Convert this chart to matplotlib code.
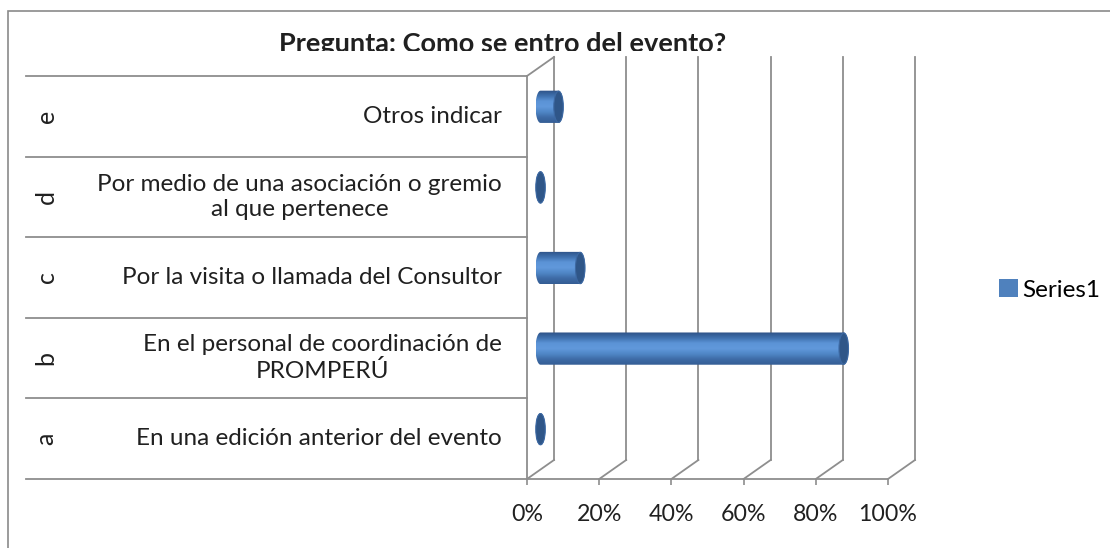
import numpy as np
import matplotlib
matplotlib.use("Agg")
import matplotlib.pyplot as plt
from matplotlib.patches import Ellipse, Polygon, Rectangle, Patch
from matplotlib.colors import LinearSegmentedColormap
from matplotlib.transforms import Bbox, TransformedBbox

# data
letters = ["a", "b", "c", "d", "e"]
labels = [
    "En una edición anterior del evento",
    "En el personal de coordinación de\nPROMPERÚ",
    "Por la visita o llamada del Consultor",
    "Por medio de una asociación o gremio\nal que pertenece",
    "Otros indicar",
]
values = [0, 84, 11, 0, 5]
xticks = [0, 20, 40, 60, 80, 100]
xtick_labels = ["0%", "20%", "40%", "60%", "80%", "100%"]
title = "Pregunta: Como se entro del evento?"
series_name = "Series1"

plt.rcParams["font.family"] = ["Lato", "DejaVu Sans"]

W, H = 1110, 548
GRID = "#8e8e8e"
TXT = "#202020"
fig = plt.figure(figsize=(W / 100, H / 100), dpi=100)

# outer chart border (only top and left visible)
fig.add_artist(Rectangle((8 / W, -0.2), 1.2, 1.2 - 11 / H, transform=fig.transFigure,
                         fill=False, edgecolor="#8a8a8a", lw=1.2))

ax = fig.add_axes([527 / W, (H - 479) / H, 361 / W, 403 / H])
ax.set_xlim(0, 100)
ax.set_ylim(0, 5)

# depth of the fake 3d box, in data units
DX = 27 * 100 / 361
DY = 19 * 5 / 403

# back wall gridlines + floor diagonals
for x in xticks:
    ax.plot([x + DX, x + DX], [DY, 5 + DY], color=GRID, lw=1.3, clip_on=False, zorder=1)
    ax.plot([x, x + DX], [0, DY], color=GRID, lw=1.3, clip_on=False, zorder=1)
# left side wall top edge
ax.plot([0, DX], [5, 5 + DY], color=GRID, lw=1.3, clip_on=False, zorder=1)

# category separators of the multi-level axis
ytr = ax.get_yaxis_transform()
for k in range(len(labels) + 1):
    ax.plot([-1.388, 0], [k, k], color=GRID, lw=1.3, transform=ytr, clip_on=False)

# cylinders
cmap = LinearSegmentedColormap.from_list(
    "cyl", ["#2d5287", "#3f70ad", "#5b93d6", "#6199dc", "#4f86c6", "#3e6ba6", "#345d94"])
bar_h = 0.40
ew = 10 * 100 / 361
grad = np.linspace(0, 1, 64).reshape(-1, 1)
for i, v in enumerate(values):
    yc = i + 0.5 + DY / 2
    x0 = DX / 2
    x1 = v + DX / 2
    t = np.linspace(np.pi / 2, 3 * np.pi / 2, 40)
    left = np.column_stack([x0 + ew / 2 * np.cos(t), yc + bar_h / 2 * np.sin(t)])
    t2 = np.linspace(-np.pi / 2, np.pi / 2, 40)
    right = np.column_stack([x1 + ew / 2 * np.cos(t2), yc + bar_h / 2 * np.sin(t2)])
    outline = Polygon(np.vstack([left, right]), closed=True, facecolor="none",
                      edgecolor="none", transform=ax.transData)
    ax.add_patch(outline)
    im = ax.imshow(grad, cmap=cmap, aspect="auto", origin="upper",
                   extent=[x0 - ew / 2, x1 + ew / 2, yc - bar_h / 2, yc + bar_h / 2],
                   zorder=3, interpolation="bilinear")
    im.set_clip_path(outline)
    ax.add_patch(Ellipse((x1, yc), ew * 0.95, bar_h * 0.97, facecolor="#2f5688",
                         edgecolor="#3d69a3", lw=0.8, zorder=4))

ax.set_xlim(0, 100)
ax.set_ylim(0, 5)

# category labels
for i, (lt, lab) in enumerate(zip(letters, labels)):
    ax.text(-0.069, i + 0.5, lab, transform=ytr, ha="right", va="center",
            multialignment="center", fontsize=17.5, color=TXT, linespacing=1.25)
    ax.text(-1.332, i + 0.5, lt, transform=ytr, ha="center", va="center",
            rotation=90, fontsize=18, color=TXT)

ax.set_yticks([])
ax.set_xticks(xticks)
ax.set_xticklabels(xtick_labels, fontsize=16.7, color=TXT)
ax.tick_params(axis="x", direction="out", length=4, width=1.2, color=GRID, pad=14)
for s in ["top", "right"]:
    ax.spines[s].set_visible(False)
for s in ["left", "bottom"]:
    ax.spines[s].set_color(GRID)
    ax.spines[s].set_linewidth(1.3)
ax.patch.set_visible(False)

# title, bottom part hidden behind the plot top like in the original
tt = fig.text(503 / W, 1 - 52 / H, title, ha="center", va="baseline",
              fontsize=19.5, fontweight="bold", color=TXT, clip_on=True)
tt.set_clip_box(TransformedBbox(Bbox([[0, (H - 51) / H], [1, 1]]), fig.transFigure))

fig.legend(handles=[Patch(facecolor="#4f81bd", edgecolor="none", label=series_name)],
           loc="center left", bbox_to_anchor=(992 / W, 1 - 290 / H), frameon=False,
           fontsize=17.5, handlelength=0.75, handleheight=0.75, handletextpad=0.2,
           borderpad=0, borderaxespad=0.3)

fig.savefig("out.png", dpi=100)
